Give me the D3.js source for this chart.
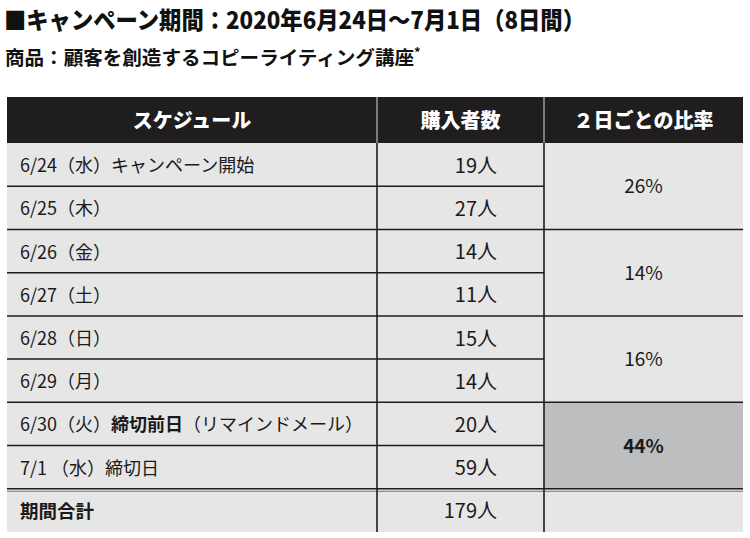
<!DOCTYPE html>
<html><head><meta charset="utf-8">
<script src="https://cdn.jsdelivr.net/npm/d3@7"></script>
<style>
html,body{margin:0;padding:0;background:#fff;}
svg{display:block;}
text{font-family:"Noto Sans CJK JP","Noto Sans",sans-serif;}
</style></head>
<body>
<svg id="c" width="750" height="538"></svg>
<script>
// ---- data ----
const title = "■キャンペーン期間：2020年6月24日〜7月1日（8日間）";
const subtitle = "商品：顧客を創造するコピーライティング講座";
const headers = ["スケジュール", "購入者数", "２日ごとの比率"];
const scheduleDates = ["6/24（水）", "6/25（木）", "6/26（金）", "6/27（土）", "6/28（日）", "6/29（月）", "6/30（火）", "7/1 （水）"];
const scheduleNotes = ["キャンペーン開始", "", "", "", "", "", "締切前日", "締切日"];
const scheduleNotesBold = [false, false, false, false, false, false, true, false];
const scheduleSuffix = ["", "", "", "", "", "", "（リマインドメール）", ""];
const buyers = [19, 27, 14, 11, 15, 14, 20, 59];
const ratioLabels = ["26%", "14%", "16%", "44%"];
const ratioHighlight = [false, false, false, true];
const totalLabel = "期間合計";
const totalBuyers = 179;

// ---- layout ----
const svg = d3.select("#c");
const x0 = 7, x1 = 377, x2 = 544, x3 = 743;
const headTop = 97, headBottom = 143;
const nRows = scheduleDates.length + 1;
const y = d3.scaleLinear().domain([0, nRows]).range([headBottom, 532]);
const lineColor = "#1c1c1c";

// title
svg.append("text").attr("x", 4).attr("y", 29)
  .attr("font-size", 24).attr("font-weight", 900).attr("fill", "#111")
  .attr("textLength", 581).attr("lengthAdjust", "spacingAndGlyphs")
  .text(title);
const st = svg.append("text").attr("x", 5).attr("y", 65)
  .attr("font-size", 19).attr("font-weight", 700).attr("fill", "#111");
st.append("tspan").attr("textLength", 409).attr("lengthAdjust", "spacingAndGlyphs").text(subtitle);
st.append("tspan").attr("font-size", 13).attr("dy", -8).text("*");

// header
svg.append("rect").attr("x", x0).attr("y", headTop).attr("width", x3 - x0).attr("height", headBottom - headTop).attr("fill", "#1f1d1e");
const headerCenters = [(x0 + x1) / 2, (x1 + x2) / 2, (x2 + x3) / 2];
svg.selectAll("text.hd").data(headers).join("text").attr("class", "hd")
  .attr("x", (d, i) => headerCenters[i]).attr("y", (headTop + headBottom) / 2 + 7.5)
  .attr("text-anchor", "middle").attr("font-size", 20).attr("font-weight", 900).attr("fill", "#fff")
  .text(d => d);
svg.append("line").attr("x1", x1).attr("x2", x1).attr("y1", headTop).attr("y2", headBottom).attr("stroke", "#bbb").attr("stroke-width", 1.2);
svg.append("line").attr("x1", x2).attr("x2", x2).attr("y1", headTop).attr("y2", headBottom).attr("stroke", "#bbb").attr("stroke-width", 1.2);

// body background
svg.append("rect").attr("x", x0).attr("y", y(0)).attr("width", x3 - x0).attr("height", y(nRows) - y(0)).attr("fill", "#e6e6e6");

// ratio cells (merged every 2 rows)
const ratioG = svg.selectAll("g.ratio").data(ratioLabels).join("g").attr("class", "ratio");
ratioG.append("rect")
  .attr("x", x2).attr("y", (d, i) => y(i * 2)).attr("width", x3 - x2).attr("height", (d, i) => y(i * 2 + 2) - y(i * 2))
  .attr("fill", (d, i) => ratioHighlight[i] ? "#bcbebf" : "#e6e6e6");
ratioG.append("text")
  .attr("x", (x2 + x3) / 2).attr("y", (d, i) => y(i * 2 + 1) + 7)
  .attr("text-anchor", "middle").attr("font-size", 19)
  .attr("font-weight", (d, i) => ratioHighlight[i] ? 700 : 400).attr("fill", "#1a1a1a")
  .text(d => d);

// schedule rows
const rows = svg.selectAll("g.row").data(scheduleDates).join("g").attr("class", "row");
const st2 = rows.append("text").attr("x", 20).attr("y", (d, i) => y(i + 0.5) + 7.5)
  .attr("font-size", 18).attr("fill", "#1a1a1a");
st2.append("tspan").text(d => d);
st2.append("tspan").attr("font-weight", (d, i) => scheduleNotesBold[i] ? 700 : 400).text((d, i) => scheduleNotes[i]);
st2.append("tspan").text((d, i) => scheduleSuffix[i]);
rows.append("text").attr("x", 497).attr("y", (d, i) => y(i + 0.5) + 8)
  .attr("text-anchor", "end").attr("font-size", 20).attr("fill", "#1a1a1a")
  .text((d, i) => buyers[i] + "人");

// total row
const ti = scheduleDates.length;
svg.append("text").attr("x", 20).attr("y", y(ti + 0.5) + 7.5).attr("font-size", 18.5).attr("font-weight", 700).attr("fill", "#1a1a1a").text(totalLabel);
svg.append("text").attr("x", 497).attr("y", y(ti + 0.5) + 8).attr("text-anchor", "end").attr("font-size", 20).attr("fill", "#1a1a1a").text(totalBuyers + "人");

// grid lines
const hIdx = d3.range(1, nRows);
svg.selectAll("line.h").data(hIdx).join("line").attr("class", "h")
  .attr("x1", x0).attr("x2", d => (d % 2 === 1 && d < ti) ? x2 : x3)
  .attr("y1", d => y(d)).attr("y2", d => y(d))
  .attr("stroke", lineColor).attr("stroke-width", 1.5);
// double line above total
svg.append("line").attr("x1", x0).attr("x2", x3).attr("y1", y(ti) + 2.5).attr("y2", y(ti) + 2.5).attr("stroke", "#777").attr("stroke-width", 1);
svg.append("line").attr("x1", x1).attr("x2", x1).attr("y1", headBottom).attr("y2", y(nRows)).attr("stroke", lineColor).attr("stroke-width", 1.6);
svg.append("line").attr("x1", x2).attr("x2", x2).attr("y1", headBottom).attr("y2", y(nRows)).attr("stroke", lineColor).attr("stroke-width", 1.6);
</script>
</body></html>
